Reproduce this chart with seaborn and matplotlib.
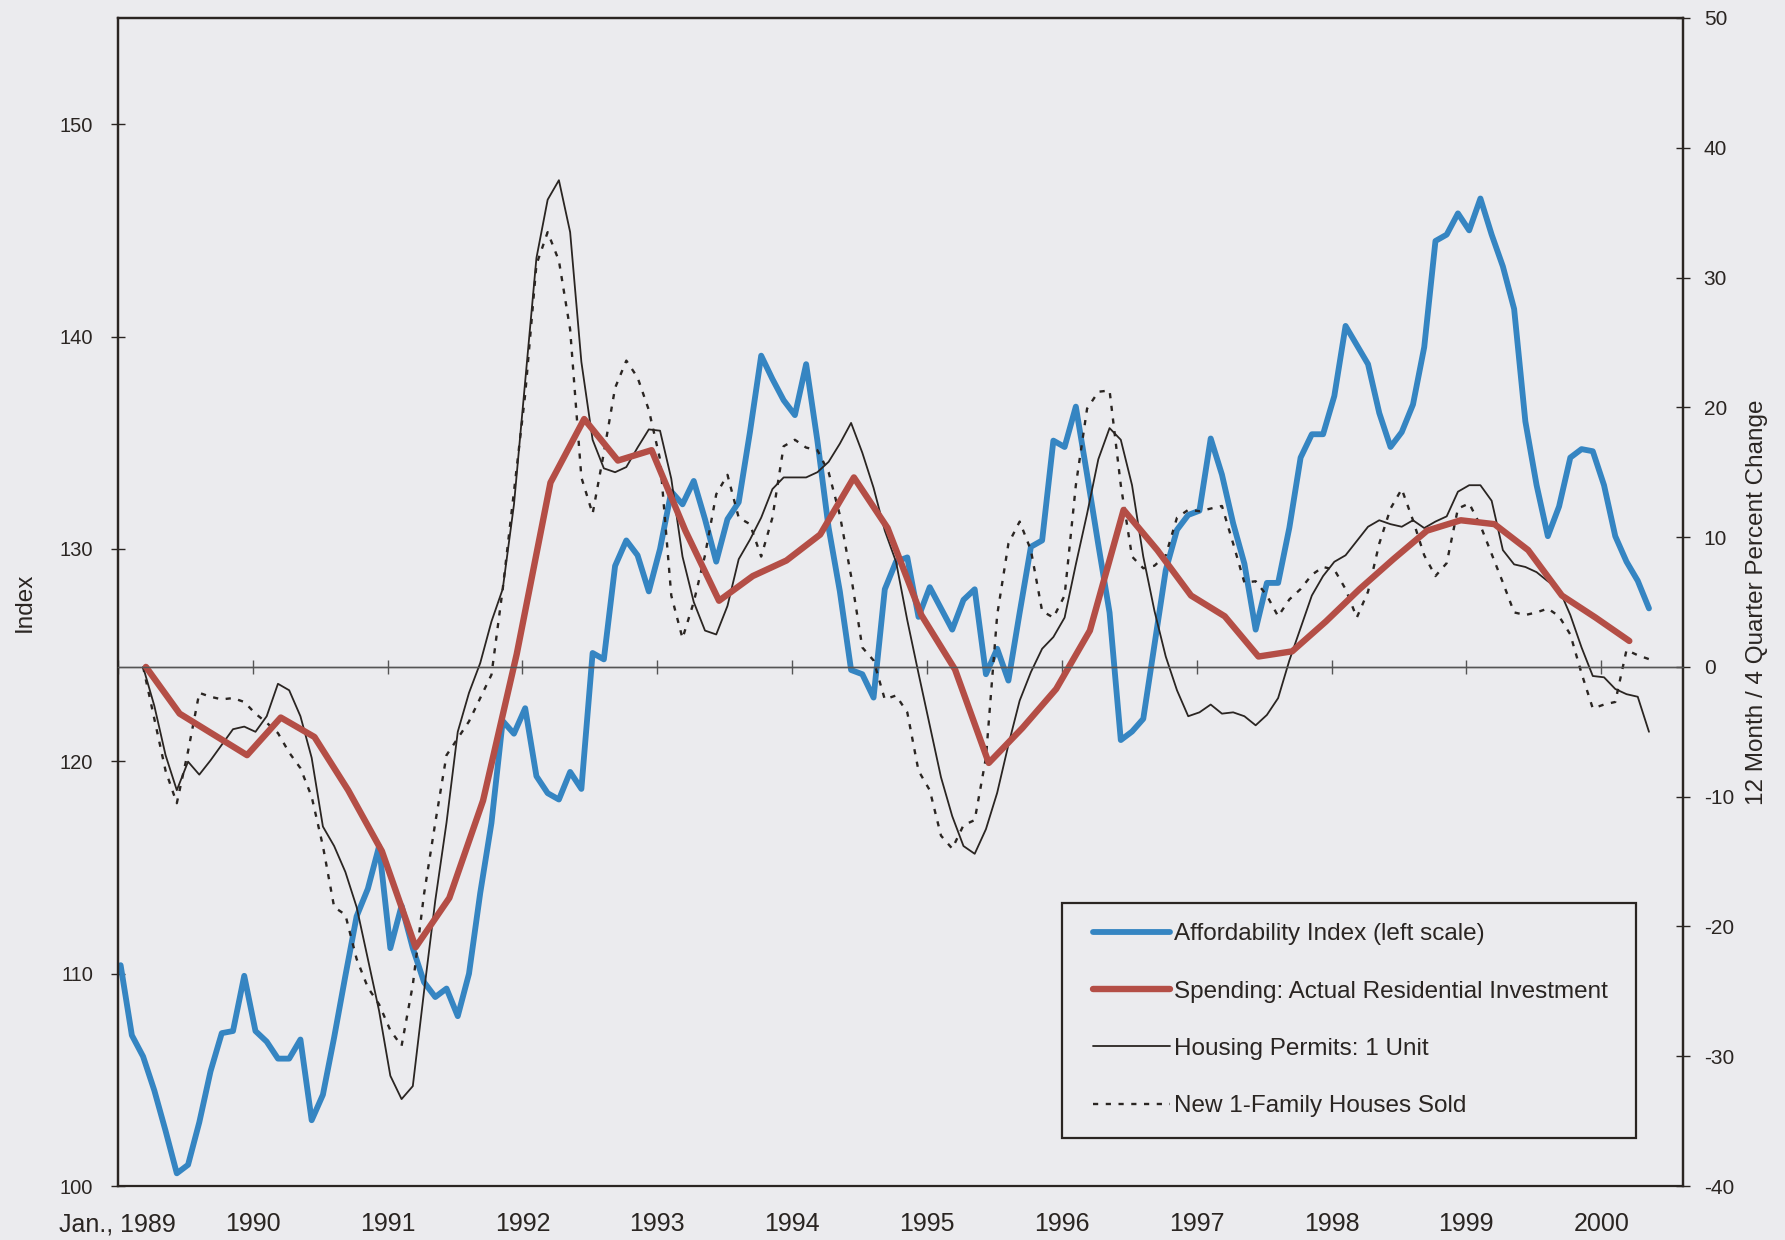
import numpy as np
import pandas as pd
import matplotlib
matplotlib.use("Agg")
import matplotlib.pyplot as plt
from matplotlib.legend_handler import HandlerLine2D
import seaborn as sns

# ---------------- data ----------------
year_labels = ["Jan., 1989", "1990", "1991", "1992", "1993", "1994", "1995",
               "1996", "1997", "1998", "1999", "2000"]

# Affordability index (left scale), monthly from Jan 1989
affordability = [
    110.4, 107.1, 106.1, 104.5, 102.6, 100.6, 101.0, 103.0, 105.4, 107.2,
    107.3, 109.9, 107.3, 106.8, 106.0, 106.0, 106.9, 103.1, 104.3, 107.0,
    109.9, 112.7, 114.0, 116.0, 111.2, 113.2, 111.2, 109.6, 108.9, 109.3,
    108.0, 110.0, 113.8, 117.1, 121.9, 121.3, 122.5, 119.3, 118.5, 118.2,
    119.5, 118.7, 125.1, 124.8, 129.2, 130.4, 129.7, 128.0, 130.0, 132.7,
    132.1, 133.2, 131.4, 129.4, 131.4, 132.2, 135.5, 139.1, 138.0, 137.0,
    136.3, 138.7, 135.1, 131.0, 128.0, 124.3, 124.1, 123.0, 128.1, 129.4,
    129.6, 126.8, 128.2, 127.2, 126.2, 127.6, 128.1, 124.1, 125.3, 123.8,
    127.0, 130.1, 130.4, 135.1, 134.8, 136.7, 133.5, 130.2, 127.0, 121.0,
    121.4, 122.0, 125.5, 129.0, 130.9, 131.6, 131.8, 135.2, 133.5, 131.2,
    129.3, 126.2, 128.4, 128.4, 131.0, 134.3, 135.4, 135.4, 137.2, 140.5,
    139.6, 138.7, 136.4, 134.8, 135.5, 136.8, 139.5, 144.5, 144.8, 145.8,
    145.0, 146.5, 144.8, 143.3, 141.3, 136.0, 133.0, 130.6, 132.0, 134.3,
    134.7, 134.6, 133.0, 130.6, 129.4, 128.5, 127.2,
]

# Spending: actual residential investment (right scale), quarterly 1989Q1-2000Q1
spending = [
    0.0, -3.6, -5.2, -6.8, -3.9, -5.4, -9.5, -14.2, -21.6, -17.8,
    -10.3, 1.0, 14.2, 19.1, 15.9, 16.7, 10.5, 5.1, 7.0, 8.2,
    10.2, 14.6, 10.7, 4.0, -0.2, -7.4, -4.7, -1.7, 2.8, 12.1,
    9.0, 5.5, 3.9, 0.8, 1.2, 3.5, 6.0, 8.3, 10.5, 11.3,
    11.0, 9.0, 5.5, 3.8, 2.0,
]

# Housing permits: 1 unit (right scale), monthly from Mar 1989
permits = [
    0.0, -3.0, -6.8, -9.5, -7.3, -8.3, -7.2, -6.0, -4.8, -4.6,
    -5.0, -3.8, -1.3, -1.8, -3.8, -7.0, -12.3, -13.8, -15.8, -18.5,
    -22.5, -26.5, -31.5, -33.3, -32.3, -25.0, -18.0, -12.0, -5.0, -2.0,
    0.3, 3.5, 6.0, 12.5, 22.0, 31.5, 36.0, 37.5, 33.5, 23.5,
    17.5, 15.3, 15.0, 15.4, 16.9, 18.3, 18.2, 14.5, 8.5, 5.0,
    2.8, 2.5, 4.7, 8.3, 9.8, 11.5, 13.7, 14.6, 14.6, 14.6,
    15.0, 15.8, 17.2, 18.8, 16.5, 13.8, 10.5, 8.1, 3.6, -0.5,
    -4.5, -8.5, -11.5, -13.8, -14.4, -12.5, -9.7, -6.0, -2.6, -0.4,
    1.4, 2.3, 3.8, 7.9, 11.8, 16.0, 18.4, 17.5, 14.0, 8.5,
    4.3, 0.8, -1.8, -3.8, -3.5, -2.9, -3.6, -3.5, -3.8, -4.5,
    -3.7, -2.4, 0.5, 3.0, 5.5, 7.0, 8.1, 8.6, 9.7, 10.8,
    11.3, 11.0, 10.8, 11.3, 10.7, 11.2, 11.6, 13.5, 14.0, 14.0,
    12.8, 9.0, 7.9, 7.7, 7.3, 6.6, 6.0, 4.0, 1.5, -0.7,
    -0.8, -1.7, -2.1, -2.3, -5.0,
]

# New 1-family houses sold (right scale), monthly from Mar 1989
houses_sold = [
    0.0, -4.0, -8.0, -10.5, -6.5, -2.0, -2.3, -2.5, -2.4, -2.7,
    -3.6, -4.3, -5.1, -6.6, -7.8, -10.0, -13.8, -18.5, -19.1, -22.5,
    -24.7, -26.0, -28.0, -29.2, -24.5, -17.5, -12.0, -6.8, -5.5, -4.2,
    -2.4, -0.6, 6.0, 13.5, 21.0, 31.0, 33.5, 31.3, 26.0, 14.6,
    11.8, 16.5, 21.5, 23.6, 22.3, 19.8, 16.0, 5.5, 2.2, 5.0,
    8.6, 13.3, 14.8, 11.5, 11.0, 8.5, 11.5, 17.0, 17.5, 16.9,
    16.7, 15.0, 11.7, 7.0, 1.5, 0.5, -2.5, -2.2, -3.5, -8.0,
    -9.5, -13.0, -14.0, -12.2, -11.8, -7.0, 4.0, 9.5, 11.2, 9.0,
    4.3, 3.8, 5.5, 14.0, 19.9, 21.2, 21.3, 14.0, 8.5, 7.6,
    7.8, 8.6, 11.5, 12.1, 12.0, 12.2, 12.4, 9.5, 6.5, 6.6,
    5.5, 3.9, 5.2, 6.0, 7.1, 7.7, 7.5, 6.0, 3.8, 5.8,
    9.5, 12.2, 13.7, 11.3, 8.6, 7.0, 8.0, 12.2, 12.6, 10.9,
    8.7, 6.5, 4.2, 4.0, 4.2, 4.5, 3.9, 2.5, -0.5, -3.2,
    -2.9, -2.7, 1.3, 0.9, 0.6,
]

series_names = ["Affordability Index (left scale)",
                "Spending: Actual Residential Investment",
                "Housing Permits: 1 Unit",
                "New 1-Family Houses Sold"]

# ---------------- frames ----------------
df_aff = pd.DataFrame({"month": np.arange(len(affordability)) + 0.25,
                       "value": affordability})
df_spend = pd.DataFrame({"month": np.arange(len(spending)) * 3 + 2.5,
                         "value": spending})
df_perm = pd.DataFrame({"month": np.arange(len(permits)) + 2.25,
                        "value": permits})
df_sold = pd.DataFrame({"month": np.arange(len(houses_sold)) + 2.25,
                        "value": houses_sold})

# ---------------- style ----------------
BG = "#ebebee"
INK = "#2a2522"
sns.set_style("white")
plt.rcParams["font.family"] = ["Liberation Sans", "DejaVu Sans"]
plt.rcParams["axes.facecolor"] = BG
plt.rcParams["figure.facecolor"] = BG
plt.rcParams["axes.unicode_minus"] = False

fig = plt.figure(figsize=(17.85, 12.4), dpi=100)
ax = fig.add_axes([0.066, 0.0435, 0.877, 0.942])
ax2 = ax.twinx()

# lines
sns.lineplot(data=df_aff, x="month", y="value", ax=ax, color="#3585c2",
             lw=4.2, label=series_names[0], legend=False)
sns.lineplot(data=df_perm, x="month", y="value", ax=ax2, color=INK,
             lw=1.3, label=series_names[2], legend=False)
sns.lineplot(data=df_sold, x="month", y="value", ax=ax2, color=INK,
             lw=1.7, linestyle=(0, (2.2, 3.2)), label=series_names[3], legend=False)
sns.lineplot(data=df_spend, x="month", y="value", ax=ax2, color="#b44e46",
             lw=4.6, label=series_names[1], legend=False)

# zero line with year ticks
ax2.axhline(0, color="#555555", lw=1.0, zorder=0)

# axes limits / ticks
ax.set_xlim(0, 139.3)
ax.set_ylim(100, 155)
ax2.set_ylim(-40, 50)
year_ticks = np.arange(len(year_labels)) * 12
ax.set_xticks(year_ticks)
ax.set_xticklabels(year_labels)
ax.tick_params(axis="x", length=0, pad=19, labelsize=18, colors=INK)
ax.set_yticks(np.arange(100, 151, 10))
ax.tick_params(axis="y", direction="inout", length=9.5, width=1, pad=13,
               labelsize=14.5, colors=INK)
ax2.set_yticks(np.arange(-40, 51, 10))
ax2.tick_params(axis="y", direction="inout", length=9.5, width=1, pad=10,
                labelsize=15, colors=INK)

# year ticks drawn on the zero line
ax2.xaxis.set_visible(True)
ax2.spines["bottom"].set_position(("data", 0))
ax2.spines["bottom"].set_color("#555555")
ax2.spines["bottom"].set_linewidth(1.0)
ax2.tick_params(axis="x", bottom=True, labelbottom=False, direction="inout",
                length=10, width=1, color="#555555")
ax2.set_xlabel("")

for a in (ax, ax2):
    for side in ("left", "right", "top"):
        a.spines[side].set_color(INK)
        a.spines[side].set_linewidth(1.6)
ax.spines["bottom"].set_color(INK)
ax.spines["bottom"].set_linewidth(1.6)

ax.set_xlabel("")
ax.set_ylabel("Index", fontsize=17.5, color=INK)
ax.yaxis.set_label_coords(-0.0525, 0.5)
ax2.set_ylabel("12 Month / 4 Quarter Percent Change", fontsize=17.5,
               color=INK, rotation=90)
ax2.yaxis.set_label_coords(1.040, 0.5)

# legend
handles = ax.get_lines()[:1] + [l for l in ax2.get_lines() if l.get_label() in series_names]
lookup = {h.get_label(): h for h in handles}
ordered = [lookup[n] for n in series_names]
hmap = {h: HandlerLine2D(xpad=0.41) for h in ordered}
leg = fig.legend(ordered, series_names, loc="upper left",
                 bbox_to_anchor=(0.595, 0.083, 0.3215, 0.189), mode="expand",
                 fontsize=17.5, frameon=True, fancybox=False, edgecolor=INK,
                 facecolor=BG, framealpha=1, handlelength=3.61,
                 handletextpad=0.15, labelspacing=1.45, borderpad=0.85,
                 borderaxespad=0, handler_map=hmap)
leg.get_frame().set_linewidth(1.6)
for t in leg.get_texts():
    t.set_color(INK)

fig.savefig("out.png", dpi=100, facecolor=BG)
